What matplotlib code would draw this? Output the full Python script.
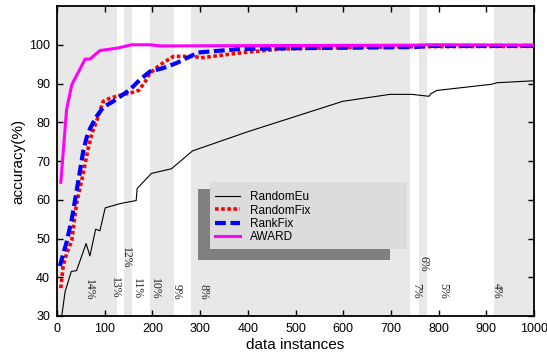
import numpy as np
import matplotlib
matplotlib.use('Agg')
import matplotlib.pyplot as plt
from matplotlib.patches import Rectangle

plt.rcParams['font.family'] = ['Liberation Sans', 'DejaVu Sans']

# accuracy curves
eu_x = [10, 17, 30, 41, 61, 69, 81, 90, 101, 132, 166, 168, 198, 240, 284, 401, 599, 698, 744, 780, 783, 796, 911, 922, 1000]
eu_y = [30, 36.3, 41.5, 41.7, 48.7, 45.5, 52.4, 52.0, 57.9, 59.0, 59.8, 62.9, 66.8, 68.0, 72.6, 77.6, 85.4, 87.2, 87.2, 86.7, 87.3, 88.2, 89.8, 90.2, 90.7]

fix_x = [8, 13, 20, 31, 41, 55, 65, 73, 85, 97, 111, 136, 153, 171, 184, 195, 216, 244, 289, 300, 384, 467, 593, 750, 1000]
fix_y = [37.2, 43, 46, 49.5, 59, 66.8, 73, 77, 81, 85.4, 86.2, 87.1, 87.5, 88.2, 90.3, 92.7, 94.8, 97.0, 97.0, 96.6, 97.9, 98.9, 99.3, 99.5, 99.6]

rank_x = [6, 20, 31, 45, 55, 62, 69, 83, 97, 118, 153, 174, 195, 223, 251, 296, 384, 488, 750, 780, 1000]
rank_y = [42.9, 49, 55, 65.1, 72.5, 76, 78.3, 81.5, 83.9, 85.4, 88.4, 91, 93.1, 94.0, 95.3, 98.0, 98.9, 99.1, 99.4, 99.7, 99.7]

award_x = [8, 20, 31, 59, 69, 90, 125, 157, 195, 216, 500, 750, 780, 1000]
award_y = [64.5, 83.2, 89.7, 96.3, 96.3, 98.5, 99.1, 100, 100, 99.7, 99.8, 99.9, 100, 99.9]

# shaded spans and their percentages
spans = [(0, 126), (141, 157), (195, 245), (281, 741), (759, 775), (916, 1000)]
pct_labels = ['14%', '13%', '12%', '11%', '10%', '9%', '8%', '7%', '6%', '5%', '4%']
pct_x = [68, 122, 144, 167, 205, 251, 307, 754, 769, 810, 922]
pct_y = [36.9, 37.3, 45.1, 37, 37, 36.3, 36.3, 36.5, 43.5, 36.5, 36.5]

fig = plt.figure(figsize=(5.47, 3.59), dpi=100)
ax = fig.add_axes([57 / 547, 43 / 359, 477 / 547, 310 / 359])

for a, b in spans:
    ax.axvspan(a, b, color='#e8e8e8', lw=0, zorder=0)

ax.plot(eu_x, eu_y, color='black', lw=0.8, label='RandomEu', zorder=3)
ax.plot(fix_x, fix_y, color='red', lw=2.6, ls=(0, (1, 0.7)), label='RandomFix', zorder=4)
ax.plot(rank_x, rank_y, color='blue', lw=3, ls=(0, (2.6, 1.1)), label='RankFix', zorder=5)
ax.plot(award_x, award_y, color='magenta', lw=2.2, label='AWARD', zorder=6)

for t, x, y in zip(pct_labels, pct_x, pct_y):
    ax.text(x, y, t, rotation=-90, ha='center', va='center', fontsize=8.5,
            family='Liberation Serif', color='#222222', zorder=2)

# legend with a hard shadow
ax.add_patch(Rectangle((0.295, 0.181), 0.403, 0.229, transform=ax.transAxes,
                       color='#808080', lw=0, zorder=7))
ax.add_patch(Rectangle((0.321, 0.216), 0.412, 0.217, transform=ax.transAxes,
                       color='#dcdcdc', lw=0, zorder=8))
leg = ax.legend(loc='upper left', bbox_to_anchor=(0.322, 0.418), frameon=False,
                fontsize=8.5, handlelength=2.1, handletextpad=0.8,
                labelspacing=0.12, borderaxespad=0)
leg.set_zorder(9)

ax.set_xlim(0, 1000)
ax.set_ylim(30, 110)
ax.set_xticks(np.arange(0, 1001, 100))
ax.set_yticks(np.arange(30, 101, 10))
ax.tick_params(direction='in', length=4, width=1, top=True, right=True, labelsize=9, pad=5)
for s in ax.spines.values():
    s.set_linewidth(1.3)
ax.set_xlabel('data instances', fontsize=11, labelpad=2)
ax.set_ylabel('accuracy(%)', fontsize=11, labelpad=3)

fig.savefig('out.png', dpi=100)
